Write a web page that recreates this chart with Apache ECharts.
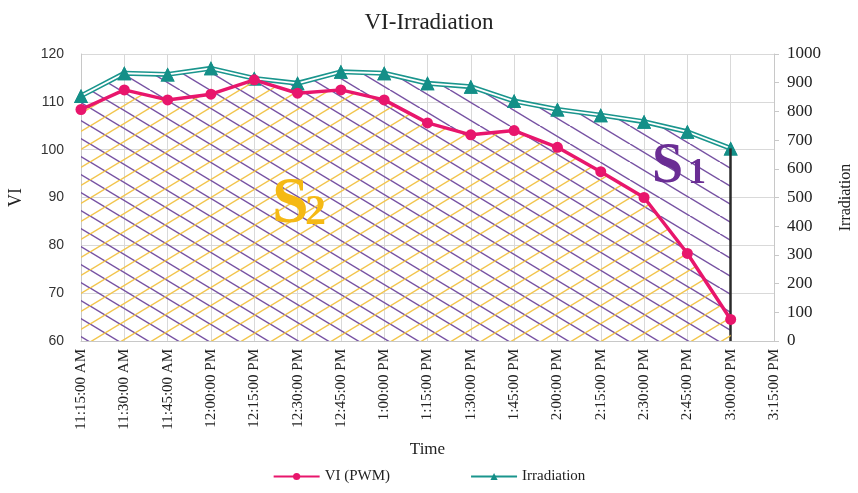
<!DOCTYPE html>
<html>
<head>
<meta charset="utf-8">
<script src="https://cdn.jsdelivr.net/npm/echarts@6/dist/echarts.min.js"></script>
<style>
  html, body { margin: 0; padding: 0; background: #fff; }
  #chart { width: 858px; height: 493px; }
</style>
</head>
<body>
<div id="chart"></div>
<script>
// time labels on the x axis
const times = [
  "11:15:00 AM", "11:30:00 AM", "11:45:00 AM", "12:00:00 PM", "12:15:00 PM",
  "12:30:00 PM", "12:45:00 PM", "1:00:00 PM", "1:15:00 PM", "1:30:00 PM",
  "1:45:00 PM", "2:00:00 PM", "2:15:00 PM", "2:30:00 PM", "2:45:00 PM",
  "3:00:00 PM", "3:15:00 PM"
];
// VI (PWM), left axis
const vi = [108.4, 112.5, 110.4, 111.6, 114.6, 111.8, 112.5, 110.4, 105.6, 103.1,
  104.0, 100.5, 95.4, 90.0, 78.3, 64.5];
// irradiation, right axis
const irradiation = [854, 933, 929, 950, 915, 898, 938, 933, 898, 886,
  836, 807, 787, 764, 729, 671];

const viTicks = { min: 60, max: 120, interval: 10 };
const irrTicks = { min: 0, max: 1000, interval: 100 };

const serif = "'Liberation Serif', 'DejaVu Serif', serif";
const sans = "'Liberation Sans', 'DejaVu Sans', sans-serif";

// hatch tiles
function hatch(color, down) {
  const w = 30, h = 18;
  const c = document.createElement("canvas");
  c.width = w; c.height = h;
  const ctx = c.getContext("2d");
  ctx.strokeStyle = color;
  ctx.lineWidth = 1.5;
  for (const dx of [-w, 0, w]) {
    ctx.beginPath();
    if (down) {
      ctx.moveTo(dx, 0); ctx.lineTo(dx + w, h);
    } else {
      ctx.moveTo(dx, h); ctx.lineTo(dx + w, 0);
    }
    ctx.stroke();
  }
  return { image: c, repeat: "repeat" };
}

const chart = echarts.init(document.getElementById("chart"));
const last = irradiation.length - 1;

const option = {
  animation: false,
  title: {
    text: "VI-Irradiation",
    left: "center",
    top: 6,
    textStyle: { fontFamily: serif, fontSize: 23, fontWeight: "normal", color: "#222" }
  },
  grid: { left: 81, right: 84, top: 54, bottom: 152, outerBoundsMode: "none", containLabel: false },
  legend: {
    bottom: 4,
    left: "center",
    itemGap: 80,
    itemWidth: 46,
    itemHeight: 9,
    textStyle: { fontFamily: serif, fontSize: 15, color: "#222" },
    data: ["VI (PWM)", "Irradiation"]
  },
  xAxis: {
    type: "category",
    data: times,
    boundaryGap: false,
    name: "Time",
    nameLocation: "middle",
    nameGap: 100,
    nameTextStyle: { fontFamily: serif, fontSize: 17, color: "#222" },
    axisLine: { lineStyle: { color: "#c8c8c8" } },
    axisTick: { show: false },
    axisLabel: { rotate: 90, fontFamily: serif, fontSize: 15, color: "#222", margin: 8 },
    splitLine: { show: true, lineStyle: { color: "#d9d9d9" } }
  },
  yAxis: [
    {
      type: "value",
      ...viTicks,
      name: "VI",
      nameLocation: "middle",
      nameGap: 56,
      nameTextStyle: { fontFamily: serif, fontSize: 18, color: "#222" },
      axisLine: { show: true, lineStyle: { color: "#c8c8c8" } },
      axisLabel: { fontFamily: sans, fontSize: 14, color: "#333", margin: 17 },
      splitLine: { lineStyle: { color: "#d9d9d9" } }
    },
    {
      type: "value",
      ...irrTicks,
      position: "right",
      name: "Irradiation",
      nameLocation: "middle",
      nameGap: 64,
      nameTextStyle: { fontFamily: serif, fontSize: 16, color: "#222" },
      axisLine: { show: true, lineStyle: { color: "#c8c8c8" } },
      axisTick: { show: true, length: 5, lineStyle: { color: "#c8c8c8" } },
      axisLabel: { fontFamily: serif, fontSize: 17, color: "#222", margin: 13, formatter: (v) => String(v) },
      splitLine: { show: false }
    }
  ],
  series: [
    {
      name: "Irradiation",
      type: "line",
      yAxisIndex: 1,
      data: irradiation,
      symbol: "triangle",
      symbolSize: 14,
      itemStyle: { color: "#148f88" },
      lineStyle: { color: "#1a958d", width: 5 },
      areaStyle: { color: hatch("#7752a3", true), opacity: 1 },
      z: 2,
      markLine: {
        silent: true,
        symbol: "none",
        label: { show: false },
        lineStyle: { color: "#2a2a2a", width: 2.5, type: "solid" },
        data: [[{ coord: [times[last], irrTicks.min] }, { coord: [times[last], irradiation[last]] }]]
      }
    },
    {
      name: "Irradiation inner",
      type: "line",
      yAxisIndex: 1,
      data: irradiation,
      showSymbol: false,
      symbol: "none",
      lineStyle: { color: "#ffffff", width: 1.8 },
      z: 3,
      silent: true
    },
    {
      name: "Irradiation markers",
      type: "line",
      yAxisIndex: 1,
      data: irradiation,
      symbol: "triangle",
      symbolSize: 14,
      itemStyle: { color: "#148f88" },
      lineStyle: { width: 0, opacity: 0 },
      z: 4,
      silent: true
    },
    {
      name: "VI (PWM)",
      type: "line",
      yAxisIndex: 0,
      data: vi,
      symbol: "circle",
      symbolSize: 11,
      itemStyle: { color: "#e8166c" },
      lineStyle: { color: "#e8166c", width: 3.5 },
      areaStyle: { color: hatch("#f2c54e", false), opacity: 1 },
      z: 5
    }
  ],
  graphic: [
    { type: "text", left: 272, top: 172, z: 100,
      style: { text: "S", fontFamily: serif, fontSize: 66, fontWeight: "bold", fill: "#f5b914" } },
    { type: "text", left: 305, top: 192, z: 100,
      style: { text: "2", fontFamily: serif, fontSize: 42, fontWeight: "bold", fill: "#f5b914" } },
    { type: "text", left: 652, top: 140, z: 100,
      style: { text: "S", fontFamily: serif, fontSize: 56, fontWeight: "bold", fill: "#6a2d94" } },
    { type: "text", left: 688, top: 156, z: 100,
      style: { text: "1", fontFamily: serif, fontSize: 36, fontWeight: "bold", fill: "#6a2d94" } }
  ]
};

chart.setOption(option);
</script>
</body>
</html>
